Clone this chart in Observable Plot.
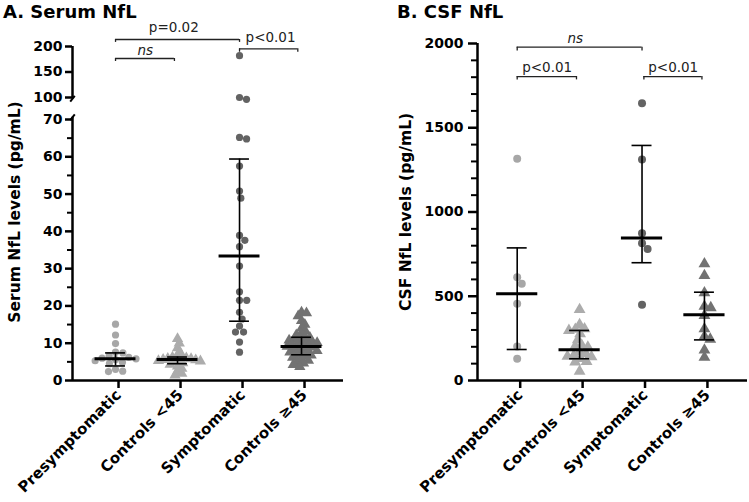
<!DOCTYPE html>
<html>
<head>
<meta charset="utf-8">
<script src="https://cdn.jsdelivr.net/npm/d3@7"></script>
<script src="https://cdn.jsdelivr.net/npm/@observablehq/plot@0.6"></script>
<style>
  body { margin: 0; background: #fff; }
  #root { position: relative; width: 749px; height: 502px; overflow: hidden; font-family: 'DejaVu Sans', sans-serif; color: #000; }
  .title { position: absolute; top: 3px; font-weight: bold; font-size: 18px; line-height: 1; white-space: nowrap; }
  .ylab { position: absolute; font-weight: bold; font-size: 15.5px; line-height: 1; white-space: nowrap; transform: translate(-50%, -50%) rotate(-90deg); }
</style>
</head>
<body>
<div id="root"></div>
<script>
// ---------- data ----------
const groups = ["Presymptomatic", "Controls <45", "Symptomatic", "Controls ≥45"];

// Serum NfL (pg/mL)
const serumPresymptomatic = [15.1, 12.2, 9.9, 7.6, 7.4, 6.6, 6.2, 6.0, 5.8, 5.6, 5.3, 4.9, 4.5, 3.0, 2.5, 2.4];
const serumControlsUnder45 = [11.2, 10.0, 8.7, 7.6, 6.6, 6.4, 6.2, 6.0, 5.9, 5.8, 5.6, 5.5, 5.4, 5.3, 5.2, 5.0, 4.7, 4.3, 3.8, 3.2, 2.5, 1.9, 1.4];
const serumSymptomatic = [182, 100, 96.5, 65.2, 64.8, 57.5, 50.8, 48.9, 38.9, 37.6, 35.9, 30.7, 23.8, 21.5, 21.5, 18.3, 16.5, 14.6, 13.0, 13.0, 10.3, 7.6];
const serumControls45Plus = [18.3, 18.1, 17.3, 16.0, 15.0, 14.0, 13.2, 12.6, 12.2, 11.8, 11.5, 11.2, 11.0, 10.8, 10.5, 10.3, 10.1, 9.9, 9.7, 9.5, 9.3, 9.1, 8.9, 8.7, 8.5, 8.3, 8.0, 7.8, 7.6, 7.3, 7.0, 6.8, 6.5, 6.2, 5.8, 5.4, 5.0, 4.6, 4.2, 3.7];
const serumCenter = [5.8, 5.6, 33.4, 9.1];
const serumLow = [3.9, 4.5, 15.9, 6.9];
const serumHigh = [7.4, 6.3, 59.4, 11.6];
const serumTicksLower = [0, 10, 20, 30, 40, 50, 60, 70];
const serumMinorLower = [5, 15, 25, 35, 45, 55, 65];
const serumTicksUpper = [100, 150, 200];

// CSF NfL (pg/mL)
const csfPresymptomatic = [1316, 613, 574, 455, 202, 129];
const csfControlsUnder45 = [421, 332, 307, 303, 297, 277, 241, 210, 204, 198, 168, 160, 150, 144, 140, 130, 113, 110, 55];
const csfSymptomatic = [1646, 1312, 874, 815, 781, 449];
const csfControls45Plus = [692, 623, 520, 440, 432, 386, 307, 262, 245, 180, 137];
const csfCenter = [515, 182, 845, 390];
const csfLow = [184, 129, 699, 241];
const csfHigh = [787, 297, 1395, 524];
const csfTicks = [0, 500, 1000, 1500, 2000];
const csfMinor = [100, 200, 300, 400, 600, 700, 800, 900, 1100, 1200, 1300, 1400, 1600, 1700, 1800, 1900];

// significance annotations (group index span, bracket level, label)
const serumBrackets = [
  {x1: 0, x2: 2, y: 213.7, tip: 208, label: "p=0.02", lx: 0.94, ly: 237, italic: false},
  {x1: 0, x2: 0.95, y: 176.5, tip: 170.6, label: "ns", lx: 0.48, ly: 191, italic: true},
  {x1: 2, x2: 2.94, y: 195.5, tip: 188.8, label: "p<0.01", lx: 2.5, ly: 217, italic: false}
];
const csfBrackets = [
  {x1: 0, x2: 2, y: 1978, tip: 1955, label: "ns", lx: 0.93, ly: 2027, italic: true},
  {x1: 0, x2: 0.95, y: 1804, tip: 1784, label: "p<0.01", lx: 0.48, ly: 1859, italic: false},
  {x1: 2.03, x2: 2.96, y: 1804, tip: 1784, label: "p<0.01", lx: 2.5, ly: 1859, italic: false}
];

// ---------- styling ----------
const FONT = "'DejaVu Sans', sans-serif";
const colors = ["#a7a7a7", "#acacac", "#636363", "#727272"];
const symbols = ["circle", "triangle", "circle", "triangle"];
const root = document.getElementById("root");

// beeswarm offsets (pixels) computed from values
function swarm(values, pxPerUnit, diam) {
  const order = values.map((v, i) => i).sort((a, b) => values[b] - values[a]);
  const placed = [];
  const off = new Array(values.length);
  for (const i of order) {
    const y = -values[i] * pxPerUnit;
    const cands = [0];
    for (const p of placed) {
      const dy = y - p.y;
      if (Math.abs(dy) < diam) {
        const dx = Math.sqrt(diam * diam - dy * dy);
        cands.push(p.x + dx, p.x - dx);
      }
    }
    cands.sort((a, b) => Math.abs(a) - Math.abs(b));
    const x = cands.find(c => placed.every(p => (c - p.x) ** 2 + (y - p.y) ** 2 >= diam * diam - 1e-6));
    placed.push({x, y});
    off[i] = x;
  }
  return off;
}
function swarmRows(groupArrays, pxPerUnit, stepPx, diams) {
  const out = [];
  groupArrays.forEach((vals, gi) => {
    const offs = swarm(vals, pxPerUnit, diams[gi]);
    vals.forEach((v, k) => out.push({gi, x: gi + offs[k] / stepPx, y: v}));
  });
  return out;
}
function dotMarks(rows, sizes) {
  return groups.map((g, gi) => Plot.dot(rows.filter(d => d.gi === gi), {
    x: "x", y: "y", symbol: symbols[gi], r: sizes[gi], fill: colors[gi], stroke: "none"
  }));
}
function summaryMarks(center, low, high) {
  const s = groups.map((g, i) => ({i, c: center[i], lo: low[i], hi: high[i]}));
  return [
    Plot.ruleX(s, {x: "i", y1: "lo", y2: "hi", strokeWidth: 1.6, stroke: "#000"}),
    Plot.ruleY(s, {x1: d => d.i - 0.16, x2: d => d.i + 0.16, y: "hi", strokeWidth: 1.6, stroke: "#000"}),
    Plot.ruleY(s, {x1: d => d.i - 0.16, x2: d => d.i + 0.16, y: "lo", strokeWidth: 1.6, stroke: "#000"}),
    Plot.ruleY(s, {x1: d => d.i - 0.33, x2: d => d.i + 0.33, y: "c", strokeWidth: 3, stroke: "#000"})
  ];
}
function bracketMarks(b) {
  return [
    Plot.ruleY(b, {x1: "x1", x2: "x2", y: "y", strokeWidth: 1.3, stroke: "#222"}),
    Plot.ruleX(b, {x: "x1", y1: "y", y2: "tip", strokeWidth: 1.3, stroke: "#222"}),
    Plot.ruleX(b, {x: "x2", y1: "y", y2: "tip", strokeWidth: 1.3, stroke: "#222"}),
    Plot.text(b.filter(d => !d.italic), {x: "lx", y: "ly", text: "label", fontSize: 13.5, fontWeight: "normal", fill: "#222"}),
    Plot.text(b.filter(d => d.italic), {x: "lx", y: "ly", text: "label", fontSize: 13.5, fontWeight: "normal", fontStyle: "italic", fill: "#222"})
  ];
}
const slash = {draw(ctx, size) { const s = Math.sqrt(size) / 2; ctx.moveTo(-s * 0.8, s); ctx.lineTo(s * 0.8, -s); }};
const baseStyle = {fontFamily: FONT, fontSize: "14px", fontWeight: "bold", background: "transparent", overflow: "visible", color: "#000"};
const plain = d => String(d);

function mount(svg, left, top) {
  svg.style.position = "absolute";
  svg.style.left = left + "px";
  svg.style.top = top + "px";
  svg.style.background = "transparent";
  svg.style.overflow = "visible";
  root.appendChild(svg);
}
function xAxis() {
  return Plot.axisX({ticks: [0, 1, 2, 3], tickFormat: i => groups[i], tickRotate: -45, tickSize: 8, tickPadding: 4,
    strokeWidth: 2.5, fontSize: 15, fontWeight: "bold", label: null, dx: 3});
}

// ---------- panel A: serum (broken axis) ----------
const L = {width: 380, left: 72, right: 37, xDomain: [-0.694, 3.677], step: 62};
const LB = {height: 502, top: 119, bottom: 122, domain: [0, 70]};
const LT = {height: 110, top: 46, bottom: 13, domain: [100, 200]};
const pxLB = (LB.height - LB.top - LB.bottom) / (LB.domain[1] - LB.domain[0]);
const pxLT = (LT.height - LT.top - LT.bottom) / (LT.domain[1] - LT.domain[0]);
const serumGroups = [serumPresymptomatic, serumControlsUnder45, serumSymptomatic, serumControls45Plus];
const serumDiams = [7.4, 4.8, 7.2, 5.0];
const serumSizes = [3.6, 4.2, 3.6, 4.2];
const lowerRows = swarmRows(serumGroups.map(a => a.filter(v => v <= 70)), pxLB, L.step, serumDiams);
const upperRows = swarmRows(serumGroups.map(a => a.filter(v => v > 70)), pxLT, L.step, serumDiams);

const serumLower = Plot.plot({
  width: L.width, height: LB.height,
  marginLeft: L.left, marginRight: L.right, marginTop: LB.top, marginBottom: LB.bottom,
  x: {type: "linear", domain: L.xDomain, label: null},
  y: {domain: LB.domain, label: null},
  style: baseStyle,
  marks: [
    ...dotMarks(lowerRows, serumSizes),
    ...summaryMarks(serumCenter, serumLow, serumHigh),
    Plot.axisY({ticks: serumMinorLower, tickSize: 5, tickFormat: () => "", strokeWidth: 2, label: null}),
    Plot.axisY({ticks: serumTicksLower, tickSize: 7, tickPadding: 3, tickFormat: plain, strokeWidth: 2.5, fontSize: 14, fontWeight: "bold", label: null}),
    xAxis(),
    Plot.ruleY([0], {strokeWidth: 2.5, stroke: "#000"}),
    Plot.ruleX([L.xDomain[0]], {y1: 0, y2: 70.6, strokeWidth: 2.5, stroke: "#000"}),
    Plot.dot([70.6], {x: () => L.xDomain[0], y: d => d, symbol: slash, r: 3.2, stroke: "#000", strokeWidth: 2, fill: "none"})
  ]
});
mount(serumLower, 0, 0);

const serumUpper = Plot.plot({
  width: L.width, height: LT.height,
  marginLeft: L.left, marginRight: L.right, marginTop: LT.top, marginBottom: LT.bottom,
  x: {type: "linear", domain: L.xDomain, label: null, axis: null},
  y: {domain: LT.domain, label: null},
  style: baseStyle,
  marks: [
    ...dotMarks(upperRows, serumSizes),
    Plot.axisY({ticks: serumTicksUpper, tickSize: 7, tickPadding: 3, tickFormat: plain, strokeWidth: 2.5, fontSize: 14, fontWeight: "bold", label: null}),
    Plot.ruleX([L.xDomain[0]], {y1: 97.5, y2: 200, strokeWidth: 2.5, stroke: "#000"}),
    Plot.dot([97.5], {x: () => L.xDomain[0], y: d => d, symbol: slash, r: 3.2, stroke: "#000", strokeWidth: 2, fill: "none"}),
    ...bracketMarks(serumBrackets)
  ]
});
mount(serumUpper, 0, 0);

// ---------- panel B: CSF ----------
const R = {width: 369, height: 502, left: 97, right: 2, top: 43, bottom: 122, xDomain: [-0.636, 3.69], step: 62.4, domain: [0, 2000]};
const pxR = (R.height - R.top - R.bottom) / (R.domain[1] - R.domain[0]);
const csfGroups = [csfPresymptomatic, csfControlsUnder45, csfSymptomatic, csfControls45Plus];
const csfRows = swarmRows(csfGroups, pxR, R.step, [8, 6.5, 8, 6.5]);

const csfPlot = Plot.plot({
  width: R.width, height: R.height,
  marginLeft: R.left, marginRight: R.right, marginTop: R.top, marginBottom: R.bottom,
  x: {type: "linear", domain: R.xDomain, label: null},
  y: {domain: R.domain, label: null},
  style: baseStyle,
  marks: [
    ...dotMarks(csfRows, [4, 4.4, 4, 4.4]),
    ...summaryMarks(csfCenter, csfLow, csfHigh),
    Plot.axisY({ticks: csfMinor, tickSize: 6, tickFormat: () => "", strokeWidth: 2, label: null}),
    Plot.axisY({ticks: csfTicks, tickSize: 9, tickPadding: 5, tickFormat: plain, strokeWidth: 2.5, fontSize: 14, fontWeight: "bold", label: null}),
    xAxis(),
    Plot.ruleY([0], {strokeWidth: 2.5, stroke: "#000"}),
    Plot.ruleX([R.xDomain[0]], {y1: 0, y2: 2000, strokeWidth: 2.5, stroke: "#000"}),
    ...bracketMarks(csfBrackets)
  ]
});
mount(csfPlot, 380, 0);

// ---------- titles & axis labels ----------
function addDiv(cls, text, left, top) {
  const d = document.createElement("div");
  d.className = cls; d.textContent = text;
  d.style.left = left + "px"; d.style.top = top + "px";
  root.appendChild(d);
}
addDiv("title", "A. Serum NfL", 3, 3);
addDiv("title", "B. CSF NfL", 397, 3);
addDiv("ylab", "Serum NfL levels (pg/mL)", 16, 212);
addDiv("ylab", "CSF NfL levels (pg/mL)", 407, 212);
</script>
</body>
</html>
